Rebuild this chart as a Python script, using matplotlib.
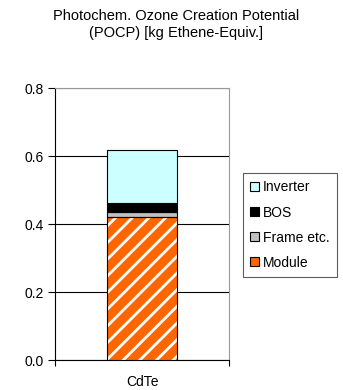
import matplotlib
matplotlib.use("Agg")
import matplotlib.pyplot as plt
from matplotlib.patches import Patch

plt.rcParams['font.family'] = ['Liberation Sans', 'DejaVu Sans']
plt.rcParams['hatch.linewidth'] = 2.0

categories = ["CdTe"]
series_names = ["Module", "Frame etc.", "BOS", "Inverter"]
module = [0.42]
frame = [0.017]
bos = [0.025]
inverter = [0.155]
yticks = [0.0, 0.2, 0.4, 0.6, 0.8]
ytick_labels = ["0.0", "0.2", "0.4", "0.6", "0.8"]

colors = {"Module": "#FF6600", "Frame etc.": "#C0C0C0", "BOS": "#000000", "Inverter": "#CCFFFF"}

fig = plt.figure(figsize=(3.43, 3.90), dpi=100)
ax = fig.add_axes([0.160, 0.0769, 0.508, 0.697])

x = list(range(len(categories)))
w = 0.4
values = {"Module": module, "Frame etc.": frame, "BOS": bos, "Inverter": inverter}
bottom = [0.0] * len(categories)
for name in series_names:
    vals = values[name]
    if name == "Module":
        ax.bar(x, vals, w, bottom=bottom, color=colors[name], edgecolor="white",
               hatch="//", linewidth=0, zorder=3)
        ax.bar(x, vals, w, bottom=bottom, fill=False, edgecolor="black", linewidth=0.8, zorder=4)
    else:
        ax.bar(x, vals, w, bottom=bottom, color=colors[name], edgecolor="black",
               linewidth=0.8, zorder=3)
    bottom = [b + v for b, v in zip(bottom, vals)]

ax.set_xlim(-0.5, 0.5)
ax.set_ylim(0, 0.8)
ax.set_yticks(yticks)
ax.set_yticklabels(ytick_labels, fontsize=10)
ax.set_xticks(x)
ax.set_xticklabels(categories, fontsize=10)
ax.tick_params(axis='x', length=0, pad=11)
ax.set_xticks([-0.5, 0.5], minor=True)
ax.tick_params(axis='x', which='minor', length=4, width=0.8, color='black', direction='out')
ax.tick_params(axis='y', length=5, width=0.8, direction='out', pad=3)
ax.yaxis.grid(True, color='black', linewidth=0.8, zorder=0)
ax.set_axisbelow(True)
for s in ['left', 'bottom']:
    ax.spines[s].set_color('black')
    ax.spines[s].set_linewidth(0.8)
for s in ['top', 'right']:
    ax.spines[s].set_color('#999999')
    ax.spines[s].set_linewidth(0.8)

fig.text(0.513, 0.938, "Photochem. Ozone Creation Potential\n(POCP) [kg Ethene-Equiv.]",
         ha='center', va='center', fontsize=10.5, linespacing=1.3)

handles = []
for name in reversed(series_names):
    handles.append(Patch(facecolor=colors[name], edgecolor='black', linewidth=0.8, label=name))
leg = fig.legend(handles=handles, loc='upper left', bbox_to_anchor=(0.708, 0.557),
                 fontsize=10, frameon=True, fancybox=False, handlelength=0.6, handleheight=0.6,
                 handletextpad=0.3, labelspacing=0.8, borderpad=0.55, borderaxespad=0)
leg.get_frame().set_edgecolor('#333333')
leg.get_frame().set_linewidth(0.8)

fig.savefig("out.png", dpi=100)
